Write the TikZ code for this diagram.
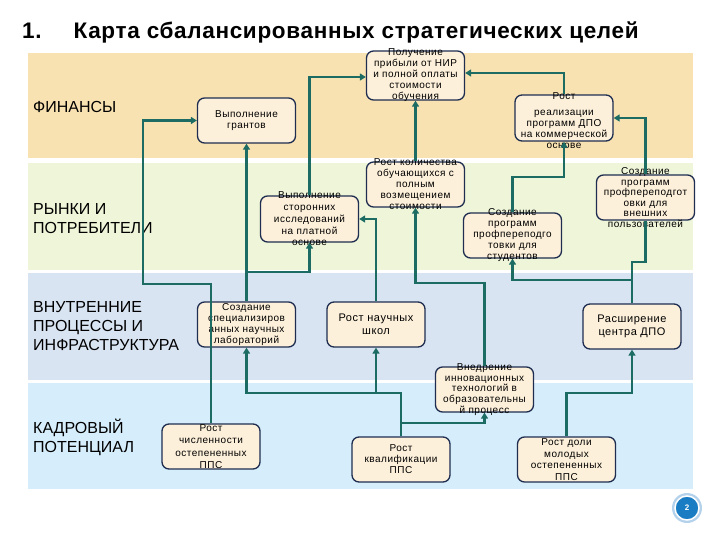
\documentclass[tikz,border=0pt]{standalone}
\usepackage{fontspec}
\setmainfont{Liberation Sans}
\newfontfamily\boxfont[LetterSpace=5]{Liberation Sans}
\newfontfamily\titlefont[LetterSpace=3]{Liberation Sans}
\usetikzlibrary{arrows.meta}
\definecolor{finband}{RGB}{249,226,178}
\definecolor{mktband}{RGB}{239,245,216}
\definecolor{intband}{RGB}{217,228,243}
\definecolor{hrband}{RGB}{214,237,251}
\definecolor{boxfill}{RGB}{253,240,218}
\definecolor{boxline}{RGB}{30,45,80}
\definecolor{linec}{RGB}{28,108,100}
\definecolor{pgblue}{RGB}{26,125,196}
\definecolor{pgring}{RGB}{180,210,236}
\begin{document}
\begin{tikzpicture}[x=1pt,y=-1pt,
  box/.style={draw=boxline, line width=1.3pt, fill=boxfill, rounded corners=7pt,
    minimum width=98pt, minimum height=45pt, inner sep=0pt},
  txt/.style={align=center, inner sep=0pt, font=\boxfont\fontsize{10}{11}\selectfont},
  txtb/.style={align=center, inner sep=0pt, font=\boxfont\fontsize{11}{13}\selectfont},
  conn/.style={draw=linec, line width=2.6pt},
  arr/.style={conn, -{Triangle[length=6pt,width=7pt]}},
  blabel/.style={anchor=west, align=left, inner sep=0pt, font=\fontsize{16}{19}\selectfont}]
\useasboundingbox (0,0) rectangle (720,540);
\fill[white] (0,0) rectangle (720,540);
% bands
\fill[finband] (28,53) rectangle (693,158);
\fill[mktband] (28,163) rectangle (693,270);
\fill[intband] (28,273) rectangle (693,380);
\fill[hrband] (28,383) rectangle (693,489);
% title
\node[anchor=west, inner sep=0pt, font=\titlefont\bfseries\fontsize{22.5}{26}\selectfont] (title) at (22,32)
  {1.\hspace{32pt}Карта сбалансированных стратегических целей};
% band labels
\node[blabel] (lfin) at (33,107) {ФИНАНСЫ};
\node[blabel] (lmkt) at (33,219) {РЫНКИ И\\ПОТРЕБИТЕЛИ};
\node[blabel] (lint) at (33,326) {ВНУТРЕННИЕ\\ПРОЦЕССЫ И\\ИНФРАСТРУКТУРА};
\node[blabel] (lhr) at (33,437.5) {КАДРОВЫЙ\\ПОТЕНЦИАЛ};
% boxes
\node[box, minimum height=49pt] (n1) at (415.5,75.5) {};
\node[box] (n2) at (246.5,120.5) {};
\node[box, minimum height=46pt] (n3) at (564,118) {};
\node[box, minimum height=46pt] (n4) at (309.5,219) {};
\node[box] (n5) at (415.5,184.5) {};
\node[box] (n6) at (512.5,235.5) {};
\node[box] (n7) at (645.5,197.5) {};
\node[box] (n8) at (246.5,324.5) {};
\node[box] (n9) at (376,324.5) {};
\node[box] (n10) at (632,326.5) {};
\node[box] (n11) at (484.5,389.5) {};
\node[box] (n12) at (211,446.5) {};
\node[box] (n13) at (401,459.5) {};
\node[box] (n14) at (566.5,459.5) {};
% texts
\node[txt] (t1) at (n1) {Получение\\прибыли от НИР\\и полной оплаты\\стоимости\\обучения};
\node[txt] (t2) at (n2) {Выполнение\\грантов};
\node[txt] (t3) at ([yshift=-3pt]n3.center) {Рост\\[5pt]реализации\\программ ДПО\\на коммерческой\\основе};
\node[txt, font=\boxfont\fontsize{10}{11.7}\selectfont] (t4) at (n4) {Выполнение\\сторонних\\исследований\\на платной\\основе};
\node[txt] (t5) at (n5) {Рост количества\\обучающихся с\\полным\\возмещением\\стоимости};
\node[txt] (t6) at (n6) {Создание\\программ\\профпереподго\\товки для\\студентов};
\node[txt, font=\boxfont\fontsize{10}{10.5}\selectfont] (t7) at (n7) {Создание\\программ\\профпереподгот\\овки для\\внешних\\пользователей};
\node[txt] (t8) at (n8) {Создание\\специализиров\\анных научных\\лабораторий};
\node[txtb] (t9) at (n9) {Рост научных\\школ};
\node[txtb] (t10) at (n10) {Расширение\\центра ДПО};
\node[txt, font=\boxfont\fontsize{10}{10.7}\selectfont] (t11) at (n11) {Внедрение\\инновационных\\технологий в\\образовательны\\й процесс};
\node[txt, font=\boxfont\fontsize{10}{12.5}\selectfont] (t12) at (n12) {Рост\\численности\\остепененных\\ППС};
\node[txt] (t13) at (n13) {Рост\\квалификации\\ППС};
\node[txt, font=\boxfont\fontsize{10}{11.7}\selectfont] (t14) at (n14) {Рост доли\\молодых\\остепененных\\ППС};
% connectors
\coordinate (a1) at (211,284); \coordinate (a2) at (143,284); \coordinate (a3) at (143,120.5);
\draw[arr] (n12.north) -- (a1) -- (a2) -- (a3) -- (n2.west);
\coordinate (b1) at (246.5,272); \coordinate (b2) at (309.5,272);
\draw[arr] (n8.north) -- (b1) -- (n2.south);
\draw[arr] (b1) -- (b2) -- (n4.south);
\coordinate (c1) at (401,393); \coordinate (c2) at (246.5,393);
\draw[arr] (n13.north) -- (c1) -- (c2) -- (n8.south);
\coordinate (c3) at (376,393);
\draw[arr] (c3) -- (n9.south);
\coordinate (c4) at (401,423); \coordinate (c5) at (484.5,423);
\draw[arr] (c4) -- (c5) -- (n11.south);
\coordinate (d1) at (566.5,393); \coordinate (d2) at (632,393);
\draw[arr] (n14.north) -- (d1) -- (d2) -- (n10.south);
\coordinate (e1) at (632,262); \coordinate (e2) at (645.5,262);
\draw[conn] (n10.north) -- (e1) -- (e2) -- (n7.south);
\coordinate (e3) at (632,280); \coordinate (e4) at (512.5,280);
\draw[arr] (e3) -- (e4) -- (n6.south);
\coordinate (f1) at (645.5,118);
\draw[arr] (n7.north) -- (f1) -- (n3.east);
\coordinate (g1) at (512.5,177); \coordinate (g2) at (564,177);
\draw[arr] (n6.north) -- (g1) -- (g2) -- (n3.south);
\coordinate (h1) at (564,73);
\draw[arr] (n3.north) -- (h1) -- ([yshift=2.5pt]n1.east);
\draw[arr] (n5.north) -- (n1.south);
\coordinate (k1) at (309.5,77);
\draw[arr] (n4.north) -- (k1) -- ([yshift=-1.5pt]n1.west);
\coordinate (m1) at (376,219);
\draw[arr] (n9.north) -- (m1) -- (n4.east);
\coordinate (p1) at (484.5,283); \coordinate (p2) at (415.5,283);
\draw[arr] (n11.north) -- (p1) -- (p2) -- (n5.south);
% page number
\fill[pgring] (687,508) circle (15);
\node[circle, fill=pgblue, draw=white, line width=1.5pt, minimum size=24pt, inner sep=0pt,
  text=white, font=\bfseries\fontsize{8}{8}\selectfont] (pg) at (687,508) {2};
\end{tikzpicture}
\end{document}
